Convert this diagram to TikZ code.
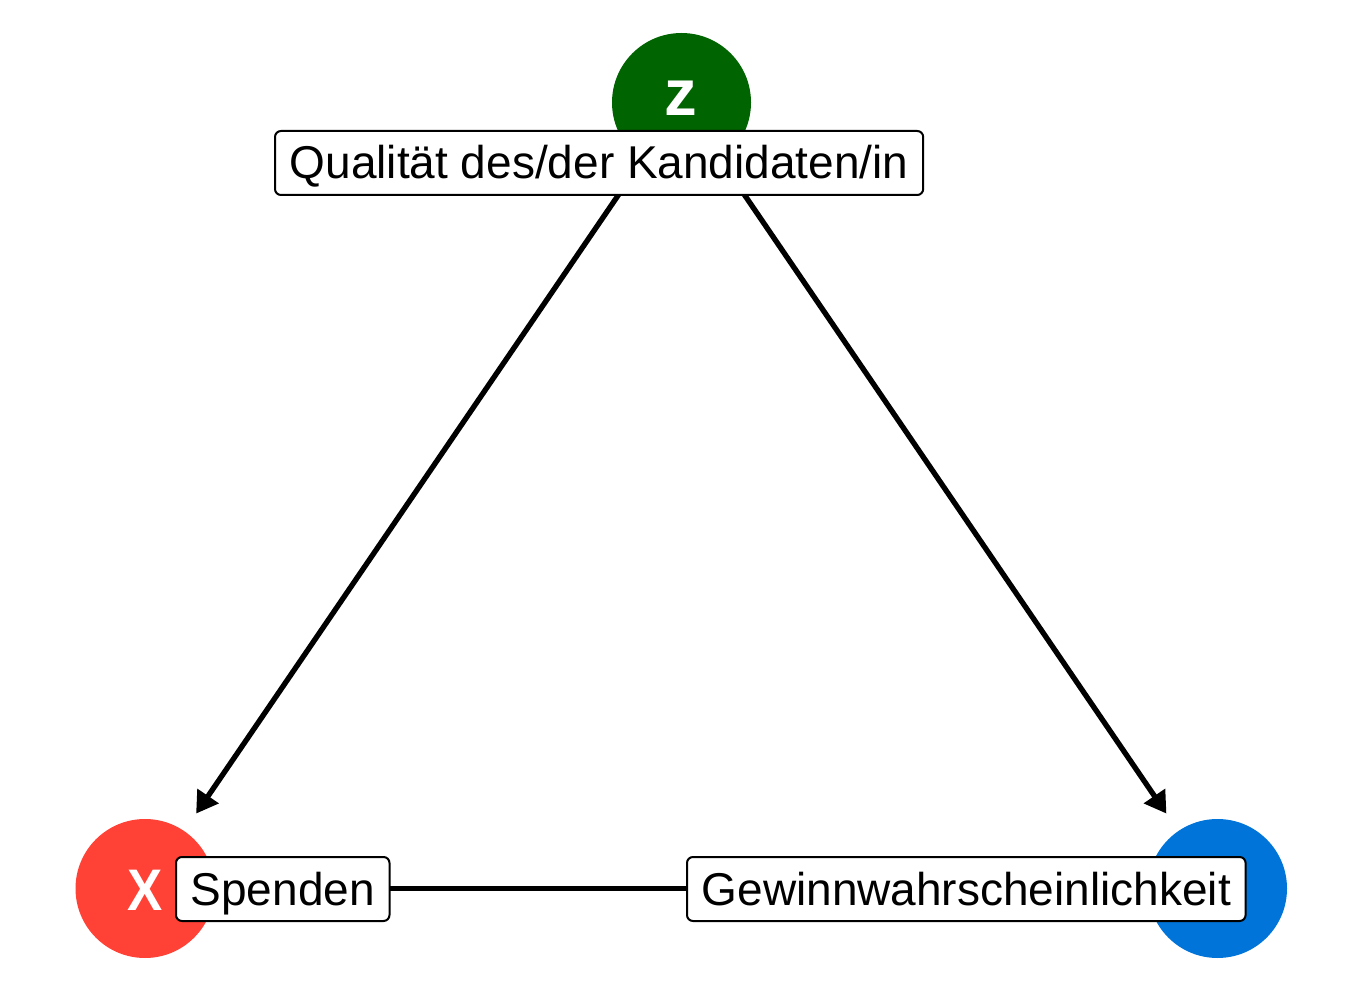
\documentclass[tikz,border=0pt]{standalone}
\usepackage{fontspec}
\setmainfont{Liberation Sans}
\usetikzlibrary{arrows.meta}
\definecolor{zgreen}{HTML}{006400}
\definecolor{xred}{HTML}{FF4136}
\definecolor{yblue}{HTML}{0074D9}
\tikzset{
  dagnode/.style={circle, minimum size=104.25pt, inner sep=0pt, draw=none},
  letter/.style={text=white, font=\fontsize{44}{50}\selectfont\bfseries, inner sep=0pt, anchor=base},
  labelbox/.style={draw=black, fill=white, line width=1.5pt, rounded corners=4.5pt,
    inner xsep=11pt, inner ysep=0pt, text height=36pt, text depth=12pt,
    font=\fontsize{34.5}{40}\selectfont, anchor=west},
  edge/.style={line width=4pt, shorten >=68pt, shorten <=68pt},
  arrowedge/.style={edge, -{Triangle[length=16pt,width=18.5pt]}}
}
\begin{document}
\begin{tikzpicture}[x=0.75pt,y=-0.75pt]
\useasboundingbox (0,0) rectangle (1350,1005);
% circles
\node[dagnode, fill=zgreen] (z) at (681.5,102.5) {};
\node[dagnode, fill=xred] (x) at (145,888.5) {};
\node[dagnode, fill=yblue] (y) at (1217.5,888.5) {};
% edges
\draw[arrowedge] (z.center) -- (x.center);
\draw[arrowedge] (z.center) -- (y.center);
\draw[edge] (x.center) -- (y.center);
% letters
\node[letter, font=\fontsize{49}{54}\selectfont\bfseries] (zl) at (681,115.5) {z};
\node[letter, xscale=0.9] (xl) at (145,910) {X};
% labels
\node[labelbox] (zlab) at (274,163) {Qualität des/der Kandidaten/in};
\node[labelbox] (xlab) at (175,889) {Spenden};
\node[labelbox] (ylab) at (686,889) {Gewinnwahrscheinlichkeit};
\end{tikzpicture}
\end{document}
